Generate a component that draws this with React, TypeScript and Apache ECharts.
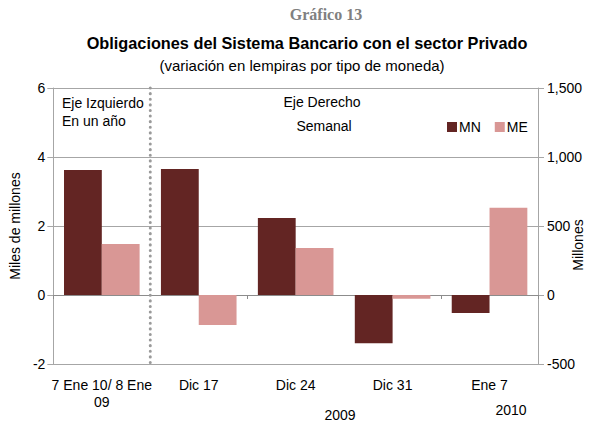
import React, { useEffect, useRef } from "react";
import * as echarts from "echarts";

const categories = ["7 Ene 10/ 8 Ene\n09", "Dic 17", "Dic 24", "Dic 31", "Ene 7"];
// first category: left axis (miles de millones), annual change
const annualMN = 3.62;
const annualME = 1.48;
// other categories: right axis (millones), weekly change
const weeklyMN = [913, 558, -350, -130];
const weeklyME = [-217, 340, -28, 633];
const leftTicks = { min: -2, max: 6, interval: 2 };
const rightTicks = { min: -500, max: 1500, interval: 500 };

const COLOR_MN = "#632523";
const COLOR_ME = "#D99795";
const GRID = "#A6A6A6";
const FONT = "'Liberation Sans Narrow', 'Liberation Sans', Arial, sans-serif";

export default function App() {
  const ref = useRef<HTMLDivElement>(null);
  useEffect(() => {
    document.body.style.margin = "0";
    if (!ref.current) return;
    const chart = echarts.init(ref.current, null, { renderer: "svg" });
    const blanks = weeklyMN.map(() => "-");
    const leftMN = [annualMN, ...blanks];
    const leftME = [annualME, ...blanks];
    const rightMN = ["-", ...weeklyMN];
    const rightME = ["-", ...weeklyME];
    const txt = { fontFamily: FONT, fontSize: 14, fill: "#000" };
    chart.setOption({
      animation: false,
      textStyle: { fontFamily: FONT },
      grid: { left: 53, right: 57, top: 88, bottom: 61 },
      legend: {
        data: ["MN", "ME"],
        left: 442,
        top: 115,
        itemWidth: 10,
        itemHeight: 10,
        itemGap: 14,
        icon: "rect",
        textStyle: { fontFamily: FONT, fontSize: 14, color: "#000", padding: [0, 0, 0, -3] },
      },
      xAxis: [
        {
          type: "category",
          data: categories,
          position: "bottom",
          axisLine: { onZero: false, lineStyle: { color: GRID } },
          axisTick: { show: false },
          axisLabel: { interval: 0, fontSize: 14, color: "#000", margin: 12, lineHeight: 17, fontFamily: FONT },
        },
        {
          type: "category",
          data: categories,
          position: "bottom",
          axisLine: { onZero: true, onZeroAxisIndex: 0, lineStyle: { color: "#8C8C8C" } },
          axisTick: { show: true, length: 4, lineStyle: { color: "#8C8C8C" } },
          axisLabel: { show: false },
        },
      ],
      yAxis: [
        {
          type: "value",
          ...leftTicks,
          axisLine: { show: true, lineStyle: { color: GRID } },
          axisTick: { show: true, length: 6, lineStyle: { color: GRID } },
          splitLine: { lineStyle: { color: GRID } },
          axisLabel: { fontSize: 14, color: "#000", margin: 8, fontFamily: FONT },
          name: "Miles de millones",
          nameLocation: "middle",
          nameGap: 31,
          nameRotate: 90,
          nameTextStyle: { fontSize: 14, color: "#000", fontFamily: "'Liberation Sans', Arial, sans-serif" },
        },
        {
          type: "value",
          ...rightTicks,
          position: "right",
          axisLine: { show: true, lineStyle: { color: GRID } },
          axisTick: { show: true, length: 6, lineStyle: { color: GRID } },
          splitLine: { show: false },
          axisLabel: {
            fontSize: 14,
            color: "#000",
            margin: 9,
            fontFamily: FONT,
            formatter: (v: number) => v.toLocaleString("en-US"),
          },
        },
      ],
      series: [
        { name: "MN", type: "bar", stack: "mn", xAxisIndex: 0, yAxisIndex: 0, data: leftMN, itemStyle: { color: COLOR_MN }, barCategoryGap: "22%", barGap: "0%" },
        { name: "ME", type: "bar", stack: "me", xAxisIndex: 0, yAxisIndex: 0, data: leftME, itemStyle: { color: COLOR_ME }, barCategoryGap: "22%", barGap: "0%" },
        { name: "MN", type: "bar", stack: "mn", xAxisIndex: 0, yAxisIndex: 1, data: rightMN, itemStyle: { color: COLOR_MN }, barCategoryGap: "22%", barGap: "0%" },
        { name: "ME", type: "bar", stack: "me", xAxisIndex: 0, yAxisIndex: 1, data: rightME, itemStyle: { color: COLOR_ME }, barCategoryGap: "22%", barGap: "0%" },
      ],
      graphic: [
        { type: "text", x: 326, y: 6, style: { text: "Gráfico 13", textAlign: "center", fontFamily: "'Liberation Serif', 'DejaVu Serif', serif", fontWeight: "bold", fontSize: 16, fill: "#808080" } },
        { type: "text", x: 307, y: 35, style: { text: "Obligaciones del Sistema Bancario con el sector Privado", textAlign: "center", fontFamily: FONT, fontWeight: "bold", fontSize: 16.3, fill: "#000" } },
        { type: "text", x: 302, y: 58, style: { text: "(variación en lempiras por tipo de moneda)", textAlign: "center", fontFamily: FONT, fontSize: 15, fill: "#000" } },
        { type: "text", x: 62, y: 96, style: { ...txt, text: "Eje Izquierdo" } },
        { type: "text", x: 62, y: 114, style: { ...txt, text: "En un año" } },
        { type: "text", x: 322, y: 95, style: { ...txt, text: "Eje Derecho", textAlign: "center" } },
        { type: "text", x: 324, y: 119, style: { ...txt, text: "Semanal", textAlign: "center" } },
        { type: "text", x: 340, y: 408, style: { ...txt, text: "2009", textAlign: "center" } },
        { type: "text", x: 511, y: 403, style: { ...txt, text: "2010", textAlign: "center" } },
        {
          type: "text",
          x: 578,
          y: 245,
          rotation: Math.PI / 2,
          style: { text: "Millones", fontFamily: "'Liberation Sans', Arial, sans-serif", fontSize: 14, fill: "#000", textAlign: "center", textVerticalAlign: "middle" },
        },
      ],
    });
    // dotted separator between first and second category
    const p0 = chart.convertToPixel({ xAxisIndex: 0 }, 0) as number;
    const p1 = chart.convertToPixel({ xAxisIndex: 0 }, 1) as number;
    const yTop = chart.convertToPixel({ yAxisIndex: 0 }, leftTicks.max) as number;
    const yBot = chart.convertToPixel({ yAxisIndex: 0 }, leftTicks.min) as number;
    const xs = (p0 + p1) / 2;
    chart.setOption({
      graphic: [
        {
          type: "line",
          id: "sep",
          shape: { x1: xs, y1: yTop, x2: xs, y2: yBot },
          style: { stroke: "#9A9A9A", lineWidth: 3, lineDash: [0.1, 5.5], lineCap: "round" },
          z: 10,
        },
      ],
    });
    return () => chart.dispose();
  }, []);
  return <div ref={ref} style={{ width: 595, height: 425 }} />;
}
